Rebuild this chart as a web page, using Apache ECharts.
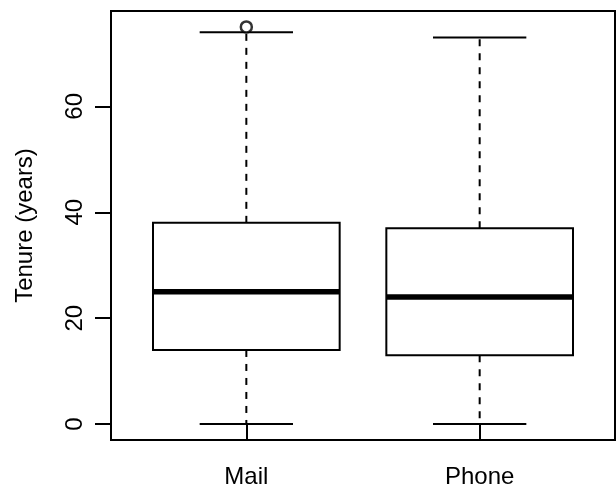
<!DOCTYPE html>
<html>
<head>
<meta charset="utf-8">
<script src="https://cdn.jsdelivr.net/npm/echarts@6/dist/echarts.min.js"></script>
<style>
  html, body { margin: 0; padding: 0; background: #fff; }
  #chart { width: 616px; height: 489px; }
</style>
</head>
<body>
<div id="chart"></div>
<script>
// Tenure by contact channel: five-number summaries and outliers
const categories = ['Mail', 'Phone'];
const whiskerLow = [0, 0];
const q1 = [14, 13];
const median = [25, 24];
const q3 = [38, 37];
const whiskerHigh = [74, 73];
const outliers = [[1, 75]];           // [category position, value]
const yTicks = [0, 20, 40, 60];

const FONT = 'Liberation Sans';
const boxData = categories.map((c, i) =>
  [i + 1, whiskerLow[i], q1[i], median[i], q3[i], whiskerHigh[i]]);

const BOX_HALF = 0.4;   // half box width in axis units
const CAP_HALF = 0.2;   // half staple width

function renderBox(params, api) {
  const x = api.value(0);
  const lo = api.value(1), a = api.value(2), m = api.value(3), b = api.value(4), hi = api.value(5);
  const p = (xx, yy) => api.coord([xx, yy]);
  const line = (p1, p2, style) => ({
    type: 'line',
    shape: { x1: p1[0], y1: p1[1], x2: p2[0], y2: p2[1] },
    style: Object.assign({ stroke: '#000', lineWidth: 2 }, style)
  });
  const tl = p(x - BOX_HALF, b), br = p(x + BOX_HALF, a);
  return {
    type: 'group',
    children: [
      line(p(x, b), p(x, hi), { lineDash: [7, 7] }),
      line(p(x, a), p(x, lo), { lineDash: [7, 7] }),
      line(p(x - CAP_HALF, hi), p(x + CAP_HALF, hi)),
      line(p(x - CAP_HALF, lo), p(x + CAP_HALF, lo)),
      {
        type: 'rect',
        shape: { x: tl[0], y: tl[1], width: br[0] - tl[0], height: br[1] - tl[1] },
        style: { fill: '#fff', stroke: '#000', lineWidth: 2 }
      },
      line(p(x - BOX_HALF, m), p(x + BOX_HALF, m), { lineWidth: 5.5 })
    ]
  };
}

const chart = echarts.init(document.getElementById('chart'), null, { renderer: 'canvas' });
chart.setOption({
  animation: false,
  backgroundColor: '#fff',
  grid: {
    left: 111, right: 1, top: 11, bottom: 48,
    show: true, borderColor: '#000', borderWidth: 2, backgroundColor: 'transparent'
  },
  xAxis: {
    type: 'value', min: 0.42, max: 2.58,
    axisLine: { show: false },
    splitLine: { show: false },
    axisTick: { show: true, length: 15, customValues: [1, 2],
      lineStyle: { color: '#000', width: 2 } },
    axisLabel: {
      customValues: [1, 2], margin: 25,
      formatter: v => categories[Math.round(v) - 1] || '',
      color: '#000', fontFamily: FONT, fontSize: 24
    }
  },
  yAxis: {
    type: 'value', min: -3, max: 78,
    name: 'Tenure (years)', nameLocation: 'middle', nameGap: 74,
    nameTextStyle: { color: '#000', fontFamily: FONT, fontSize: 24 },
    axisLine: { show: false },
    splitLine: { show: false },
    axisTick: { show: true, length: 16, customValues: yTicks,
      lineStyle: { color: '#000', width: 2 } },
    axisLabel: {
      customValues: yTicks, rotate: 90, margin: 24,
      color: '#000', fontFamily: FONT, fontSize: 24
    }
  },
  series: [
    {
      type: 'custom',
      renderItem: renderBox,
      data: boxData,
      encode: { x: 0, y: [1, 2, 3, 4, 5] },
      clip: false
    },
    {
      type: 'scatter',
      data: outliers,
      symbol: 'circle', symbolSize: 11,
      itemStyle: { color: '#fff', borderColor: '#000', borderWidth: 2.5 },
      z: 5
    }
  ]
});
</script>
</body>
</html>
